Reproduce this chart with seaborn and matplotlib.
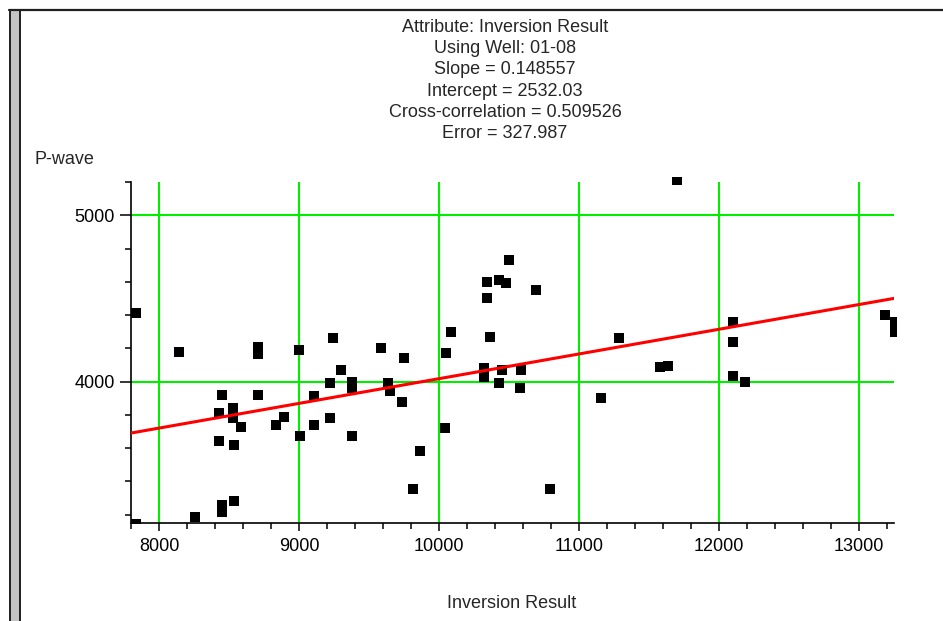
import numpy as np
import pandas as pd
import matplotlib
matplotlib.use('Agg')
import matplotlib.pyplot as plt
import seaborn as sns
from matplotlib.ticker import MultipleLocator
from matplotlib.patches import Rectangle
from matplotlib.lines import Line2D

inversion = [7836, 7836, 8145, 8254, 8426, 8426, 8450, 8450, 8450, 8526,
             8526, 8533, 8533, 8586, 8707, 8707, 8707, 8838, 8890, 9000,
             9009, 9107, 9107, 9219, 9219, 9243, 9302, 9378, 9378, 9378,
             9586, 9633, 9647, 9736, 9752, 9814, 9866, 10045, 10048, 10086,
             10319, 10319, 10343, 10343, 10366, 10426, 10426, 10450, 10476, 10502,
             10576, 10586, 10695, 10790, 11157, 11283, 11581, 11636, 11700, 12100,
             12100, 12100, 12183, 13188, 13255, 13255]
pwave = [4411, 3145, 4180, 3189, 3814, 3644, 3920, 3259, 3219, 3840,
         3780, 3620, 3283, 3730, 4210, 4164, 3920, 3740, 3790, 4190,
         3674, 3914, 3740, 3990, 3780, 4261, 4070, 4000, 3960, 3674,
         4200, 3990, 3946, 3880, 4141, 3353, 3584, 3720, 4171, 4300,
         4080, 4030, 4597, 4501, 4270, 4611, 3990, 4070, 4591, 4731,
         3960, 4070, 4551, 3353, 3900, 4261, 4085, 4095, 5210, 4361,
         4240, 4034, 4000, 4399, 4361, 4297]

attribute = 'Inversion Result'
well = '01-08'
slope = 0.148557
intercept = 2532.03
xcorr = 0.509526
error = 327.987

xlim = (7800, 13250)
ylim = (3150, 5200)

df = pd.DataFrame({'Inversion Result': inversion, 'P-wave': pwave})

# ## Plot

sns.set_style('ticks')
plt.rcParams['font.family'] = ['Liberation Sans', 'DejaVu Sans']

W, H = 943, 621
fig = plt.figure(figsize=(W / 100, H / 100), dpi=100)
ax = fig.add_axes([131 / W, (H - 523) / H, (894 - 131) / W, (523 - 182) / H])

ax.set_xlim(*xlim)
ax.set_ylim(*ylim)
ax.set_axisbelow(True)
ax.grid(True, which='major', color='#00ee00', lw=1.5)

pts = sns.scatterplot(data=df, x='Inversion Result', y='P-wave', marker='s', s=55,
                      color='black', linewidth=0, ax=ax, zorder=3)
# markers in the original spill a little past the top and right of the frame
clip = Rectangle((0, 0), 1 + 2 / 763, 1 + 5 / 341, transform=ax.transAxes)
for coll in ax.collections:
    coll.set_clip_path(clip)

xs = np.array(xlim, dtype=float)
ax.plot(xs, intercept + slope * xs, color='#ff0000', lw=2.2, zorder=4)

sns.despine(ax=ax)
for side in ['left', 'bottom']:
    ax.spines[side].set_color('black')
    ax.spines[side].set_linewidth(1.2)

ax.xaxis.set_major_locator(MultipleLocator(1000))
ax.xaxis.set_minor_locator(MultipleLocator(200))
ax.yaxis.set_major_locator(MultipleLocator(1000))
ax.yaxis.set_minor_locator(MultipleLocator(200))
ax.tick_params(axis='y', which='major', length=8, width=1.1, pad=3.5, labelsize=13, colors='black')
ax.tick_params(axis='y', which='minor', length=4.5, width=1.1, colors='black')
ax.tick_params(axis='x', which='major', length=5.5, width=1.1, pad=5, labelsize=13, colors='black')
ax.tick_params(axis='x', which='minor', length=4, width=1.1, colors='black')
ax.set_xlabel('')
ax.set_ylabel('')

# header text block
lines = ['Attribute: ' + attribute,
         'Using Well: ' + well,
         'Slope = ' + str(slope),
         'Intercept = ' + str(intercept),
         'Cross-correlation = ' + str(xcorr),
         'Error = ' + str(error)]
for i, t in enumerate(lines):
    fig.text(505 / W, 1 - (27 + 21.4 * i) / H, t, ha='center', va='center', fontsize=13)

fig.text(34 / W, 1 - 159 / H, 'P-wave', ha='left', va='center', fontsize=13)
fig.text(512 / W, 1 - 603 / H, 'Inversion Result', ha='center', va='center', fontsize=13)

# window frame
fig.add_artist(Rectangle((9 / W, 0), 12 / W, (H - 10) / H, transform=fig.transFigure,
                         facecolor='#c4c4c4', edgecolor='none'))
for xp in [10, 19.5]:
    fig.add_artist(Line2D([xp / W, xp / W], [0, 1 - 10 / H], transform=fig.transFigure,
                          color='#202020', lw=1.4))
fig.add_artist(Line2D([9 / W, 1], [1 - 10 / H, 1 - 10 / H], transform=fig.transFigure,
                      color='#202020', lw=1.6))

fig.savefig('out.png', dpi=100, facecolor='white')
